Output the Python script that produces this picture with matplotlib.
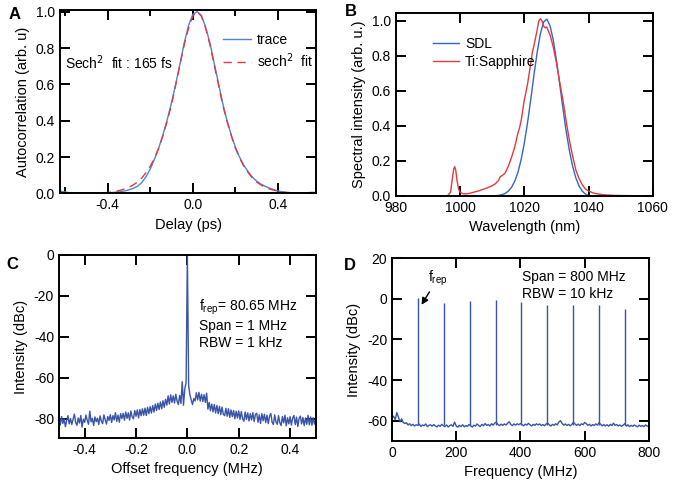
import numpy as np
import matplotlib.pyplot as plt
from matplotlib.ticker import MultipleLocator

plt.rcParams['font.family'] = ['Liberation Sans', 'DejaVu Sans']
plt.rcParams['font.size'] = 10
plt.rcParams['axes.labelsize'] = 10.5
plt.rcParams['axes.unicode_minus'] = False

# ---------------- A : autocorrelation ----------------
delay = np.linspace(-0.62, 0.58, 61)
trace = [0.012, 0.008, 0.004, 0.002, 0.002, 0.001, 0.002, 0.001, 0.002, 0.002,
         0.003, 0.004, 0.005, 0.007, 0.010, 0.014, 0.020, 0.028, 0.040, 0.060,
         0.092, 0.135, 0.190, 0.252, 0.325, 0.408, 0.500, 0.605, 0.715, 0.830,
         0.925, 0.985, 1.000, 0.980, 0.915, 0.830, 0.720, 0.610, 0.500, 0.405,
         0.325, 0.255, 0.200, 0.155, 0.120, 0.090, 0.068, 0.052, 0.040, 0.030,
         0.021, 0.014, 0.009, 0.006, 0.004, 0.003, 0.003, 0.002, 0.004, 0.006,
         0.005]
sech2_fit = [0.000, 0.000, 0.000, 0.000, 0.001, 0.001, 0.001, 0.001, 0.002, 0.003,
             0.004, 0.005, 0.008, 0.012, 0.018, 0.025, 0.034, 0.047, 0.063, 0.085,
             0.115, 0.150, 0.195, 0.250, 0.320, 0.400, 0.490, 0.600, 0.710, 0.820,
             0.910, 0.975, 1.000, 0.975, 0.910, 0.820, 0.710, 0.600, 0.490, 0.400,
             0.320, 0.250, 0.195, 0.150, 0.115, 0.085, 0.063, 0.047, 0.034, 0.025,
             0.018, 0.012, 0.008, 0.005, 0.004, 0.003, 0.002, 0.001, 0.001, 0.001,
             0.001]

# ---------------- B : optical spectra ----------------
wl_sdl = [1010, 1011, 1012, 1013, 1014, 1015, 1016, 1017, 1018, 1019, 1020,
          1021, 1022, 1023, 1024, 1025, 1026, 1027, 1028, 1029, 1030, 1031,
          1032, 1033, 1034, 1035, 1036, 1037, 1038, 1039, 1040, 1041]
sdl = [0.000, 0.001, 0.003, 0.007, 0.014, 0.027, 0.049, 0.084, 0.135, 0.208, 0.303,
       0.420, 0.553, 0.692, 0.822, 0.928, 0.994, 1.010, 0.972, 0.890, 0.775, 0.640,
       0.502, 0.372, 0.262, 0.172, 0.105, 0.058, 0.028, 0.011, 0.002, 0.000]

wl_ti = [994, 996, 997, 997.5, 998, 998.3, 998.6, 999, 999.5, 1000, 1001, 1002,
         1003, 1004, 1005, 1006, 1007, 1008, 1009, 1010, 1011, 1012, 1012.5, 1013,
         1014, 1015, 1016, 1017, 1018, 1018.5, 1019, 1020, 1021, 1022, 1022.5, 1023,
         1024, 1024.5, 1025, 1025.5, 1026, 1026.5, 1027, 1027.5, 1028, 1029, 1030,
         1031, 1032, 1033, 1034, 1035, 1036, 1037, 1038, 1039, 1040, 1041, 1042,
         1044, 1046, 1048, 1050, 1055, 1058]
ti_sapph = [0.0, 0.0, 0.02, 0.09, 0.155, 0.167, 0.15, 0.09, 0.04, 0.02, 0.012, 0.012,
            0.015, 0.02, 0.025, 0.03, 0.037, 0.043, 0.05, 0.058, 0.07, 0.09, 0.11, 0.115,
            0.13, 0.17, 0.22, 0.28, 0.36, 0.39, 0.43, 0.55, 0.64, 0.76, 0.82, 0.86,
            0.95, 1.0, 1.012, 1.0, 0.97, 0.96, 0.965, 0.94, 0.92, 0.85, 0.76,
            0.65, 0.55, 0.43, 0.32, 0.23, 0.15, 0.10, 0.065, 0.04, 0.028, 0.02, 0.014,
            0.008, 0.005, 0.003, 0.002, 0.001, 0.0]

# ---------------- C : RF spectrum, 1 MHz span ----------------
offset = np.linspace(-0.5, 0.5, 201)
rf_narrow = [-79.5, -83.2, -79.0, -82.4, -80.1, -84.0, -80.9, -78.6, -82.6, -80.0,
             -82.9, -80.4, -77.8, -81.9, -83.3, -79.7, -82.2, -78.5, -84.2, -80.3,
             -81.8, -78.3, -80.9, -82.8, -76.4, -81.6, -79.9, -83.4, -79.2, -81.5,
             -79.8, -82.9, -78.7, -81.2, -82.5, -78.2, -80.6, -82.7, -79.0, -80.9,
             -78.1, -81.9, -78.6, -80.7, -77.1, -81.4, -78.3, -81.8, -77.6, -80.0,
             -77.4, -80.8, -76.8, -79.9, -77.2, -80.7, -76.3, -79.2, -80.1, -76.1,
             -78.9, -75.8, -79.7, -75.6, -78.6, -75.2, -78.4, -74.9, -78.5, -74.5,
             -77.6, -74.2, -77.3, -73.6, -76.8, -72.9, -76.1, -72.5, -75.6, -71.9,
             -75.2, -71.3, -74.5, -70.6, -73.4, -68.9, -72.9, -68.4, -72.1, -68.9,
             -72.4, -68.1, -71.5, -73.1, -68.7, -72.6,
             -62.0, -73.5, -65.5, -62.5,
             0.0,
             -64.0, -68.5, -70.8, -73.2, -70.2, -71.4, -67.4, -70.9, -67.2,
             -71.5, -68.1, -71.7, -68.3, -72.1, -67.6, -75.4, -72.1, -76.2, -72.9,
             -76.7, -73.1, -77.3, -73.6, -77.6, -74.0, -78.1, -74.4, -77.9, -78.6,
             -75.0, -78.9, -75.2, -79.4, -75.8, -79.1, -76.1, -80.1, -76.4, -79.7,
             -76.3, -80.4, -76.6, -80.0, -81.3, -76.8, -80.5, -77.2, -81.2, -77.6,
             -80.7, -77.1, -81.5, -78.0, -77.4, -81.8, -78.2, -82.4, -77.6, -81.1,
             -77.9, -82.0, -78.3, -82.5, -78.8, -77.5, -81.8, -82.9, -78.2, -81.6,
             -82.8, -78.6, -82.1, -83.4, -79.0, -82.1, -78.4, -83.6, -79.6, -82.6,
             -79.1, -83.2, -79.8, -78.5, -83.0, -79.3, -83.9, -80.0, -78.8, -82.6,
             -79.5, -83.5, -79.7, -82.8, -78.4, -83.1, -79.2, -83.3, -79.6, -82.7, -80.0]

# ---------------- D : RF spectrum, 800 MHz span ----------------
freq = np.linspace(0, 800, 161)
rf_floor = [-58.5, -57.8, -59.5, -56.0, -58.2, -60.6, -59.1, -60.9, -61.4, -61.0,
            -62.1, -61.5, -62.4, -61.8, -62.6, -62.0, -62.3, -61.7, -62.8, -62.1,
            -62.5, -61.6, -62.9, -62.3, -62.0, -62.7, -61.9, -62.6, -63.0, -62.2,
            -62.8, -61.8, -62.5, -62.9, -62.1, -63.1, -62.4, -62.0, -62.8, -60.7,
            -62.6, -63.2, -62.3, -62.9, -62.0, -63.0, -62.4, -62.8, -61.9, -62.5,
            -63.1, -62.2, -62.7, -61.6, -62.4, -62.9, -61.8, -62.5, -61.4, -62.3,
            -61.9, -62.6, -61.5, -62.2, -61.2, -60.8, -61.9, -62.4, -61.7, -62.3,
            -61.6, -62.1, -61.3, -60.5, -61.8, -62.4, -61.6, -62.2, -61.5, -62.0,
            -61.4, -61.9, -62.5, -61.7, -62.2, -61.3, -62.0, -62.6, -61.8, -62.3,
            -61.5, -62.1, -61.6, -62.4, -61.9, -62.5, -61.7, -61.2, -62.0, -62.6,
            -61.8, -62.3, -61.5, -62.1, -60.6, -60.0, -61.4, -62.2, -61.6, -62.4,
            -61.8, -62.5, -61.9, -60.8, -61.6, -62.3, -61.7, -62.4, -61.5, -62.0,
            -60.9, -61.4, -62.3, -61.8, -62.6, -61.9, -62.4, -61.6, -62.2, -61.0,
            -61.8, -62.5, -61.9, -62.6, -62.0, -62.7, -61.8, -62.4, -61.2, -62.3,
            -61.9, -62.6, -62.1, -62.8, -62.2, -61.5, -62.7, -62.0, -62.9, -62.3,
            -62.8, -62.1, -62.6, -63.0, -62.2, -62.8, -62.4, -62.9, -62.1, -62.7,
            -62.5]
harmonics = [80.65, 161.3, 241.95, 322.6, 403.25, 483.9, 564.55, 645.2, 725.85]
harm_level = [0.5, -2.3, -0.9, -0.6, -1.6, -3.2, -3.2, -3.2, -4.9]

blue_a = '#4d86cc'
blue_b = '#3467c0'
blue_cd = '#3a54a8'
red = '#e23a3f'


def style_axes(ax):
    for s in ax.spines.values():
        s.set_linewidth(1.4)
    ax.tick_params(which='both', direction='in', top=True, right=True, width=1.4)
    ax.tick_params(which='major', length=7)
    ax.tick_params(which='minor', length=4)


fig = plt.figure(figsize=(6.74, 4.91), dpi=100)
axA = fig.add_axes([0.089, 0.606, 0.380, 0.374])
axB = fig.add_axes([0.5875, 0.601, 0.381, 0.3725])
axC = fig.add_axes([0.0875, 0.108, 0.381, 0.3727])
axD = fig.add_axes([0.5816, 0.1018, 0.381, 0.3727])

# A
axA.plot(delay, trace, color=blue_a, lw=1.0, label='trace')
axA.plot(delay, sech2_fit, color=red, lw=1.0, dashes=(6, 4), label='sech$^2$  fit')
axA.set_xlim(-0.625, 0.58)
axA.set_ylim(0, 1.01)
axA.xaxis.set_major_locator(MultipleLocator(0.4))
axA.xaxis.set_minor_locator(MultipleLocator(0.2))
axA.yaxis.set_major_locator(MultipleLocator(0.2))
axA.set_xlabel('Delay (ps)')
axA.set_ylabel('Autocorrelation (arb. u)')
axA.text(-0.6, 0.72, 'Sech$^2$  fit : 165 fs', va='center')
axA.legend(loc='upper right', bbox_to_anchor=(1.015, 0.913), frameon=False,
           borderpad=0, handlelength=2.0, handletextpad=0.4, labelspacing=0.33)
style_axes(axA)

# B
axB.plot(wl_sdl, sdl, color=blue_b, lw=1.0, label='SDL')
axB.plot(wl_ti, ti_sapph, color=red, lw=1.0, label='Ti:Sapphire')
axB.set_xlim(980, 1060)
axB.set_ylim(0, 1.045)
axB.xaxis.set_major_locator(MultipleLocator(20))
axB.yaxis.set_major_locator(MultipleLocator(0.2))
axB.set_xlabel('Wavelength (nm)')
axB.set_ylabel('Spectral intensity (arb. u.)')
axB.legend(loc='upper left', bbox_to_anchor=(0.117, 0.907), frameon=False,
           borderpad=0, handlelength=1.9, handletextpad=0.4, labelspacing=0.27)
style_axes(axB)

# C
axC.plot(offset, rf_narrow, color=blue_cd, lw=1.0)
axC.set_xlim(-0.5, 0.5)
axC.set_ylim(-89.5, 0)
axC.xaxis.set_major_locator(MultipleLocator(0.2))
axC.yaxis.set_major_locator(MultipleLocator(20))
axC.set_xlabel('Offset frequency (MHz)')
axC.set_ylabel('Intensity (dBc)')
axC.text(0.045, -25.4, 'f$_{\\mathregular{rep}}$= 80.65 MHz', va='center')
axC.text(0.045, -34.6, 'Span = 1 MHz', va='center')
axC.text(0.045, -43.0, 'RBW = 1 kHz', va='center')
style_axes(axC)

# D
axD.plot(freq, rf_floor, color=blue_cd, lw=1.0)
axD.vlines(harmonics, -62, harm_level, color=blue_cd, lw=1.0)
axD.set_xlim(0, 800)
axD.set_ylim(-70, 20)
axD.xaxis.set_major_locator(MultipleLocator(200))
axD.yaxis.set_major_locator(MultipleLocator(20))
axD.set_xlabel('Frequency (MHz)')
axD.set_ylabel('Intensity (dBc)')
axD.text(405, 10.5, 'Span = 800 MHz', va='center')
axD.text(405, 2.2, 'RBW = 10 kHz', va='center')
axD.annotate('f$_{\\mathregular{rep}}$', xy=(92, -3.0), xytext=(112, 10),
             va='center', arrowprops=dict(arrowstyle='-|>', color='black', lw=1.0,
                                          shrinkA=1, shrinkB=0, mutation_scale=10))
style_axes(axD)

# panel letters
for lab, x, y in [('A', 0.012, 0.971), ('B', 0.512, 0.977), ('C', 0.010, 0.461), ('D', 0.510, 0.460)]:
    fig.text(x, y, lab, fontsize=12, fontweight='bold', va='center')

fig.savefig('out.png', dpi=100)
